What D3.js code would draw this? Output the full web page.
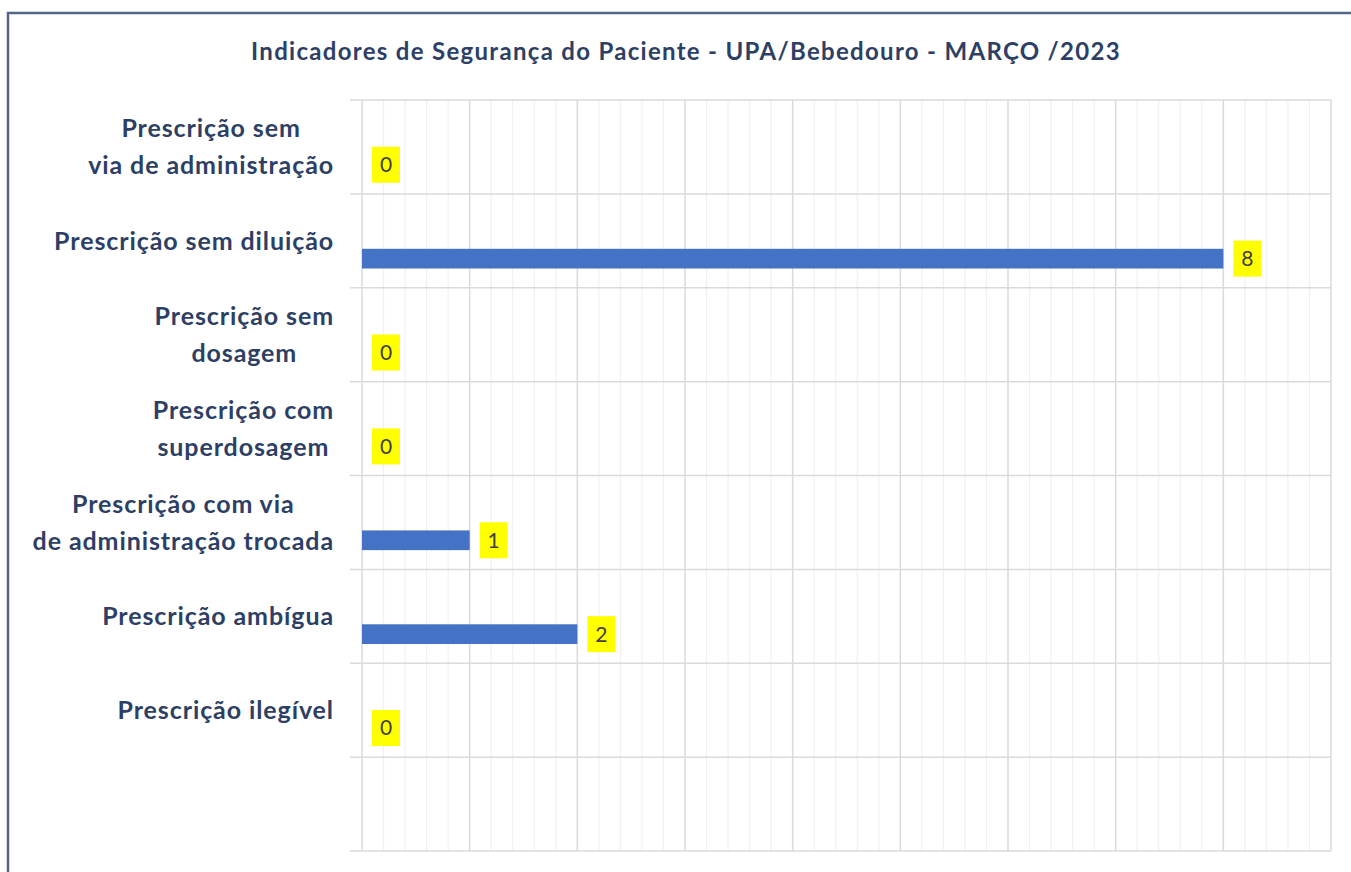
<!DOCTYPE html>
<html>
<head>
<meta charset="utf-8">
<script src="https://cdn.jsdelivr.net/npm/d3@7"></script>
<style>
  body { margin: 0; background: #fff; }
  svg { display: block; }
</style>
</head>
<body>
<div id="chart"></div>
<script>
// chart data
const title = "Indicadores de Segurança do Paciente - UPA/Bebedouro - MARÇO /2023";
const categories = [
  "Prescrição sem\nvia de administração",
  "Prescrição sem diluição",
  "Prescrição sem\ndosagem",
  "Prescrição com\nsuperdosagem",
  "Prescrição com via\nde administração trocada",
  "Prescrição ambígua",
  "Prescrição ilegível",
  ""
];
const values = [0, 8, 0, 0, 1, 2, 0, null];
const xMax = 9;

const width = 1351, height = 872;
const plot = { left: 362, right: 1331, top: 100, bottom: 851 };
const textColor = "#2e3f65";

const svg = d3.select("#chart").append("svg")
  .attr("width", width)
  .attr("height", height);

// outer frame
svg.append("rect")
  .attr("x", 8).attr("y", 13)
  .attr("width", width + 20).attr("height", height + 20)
  .attr("fill", "none")
  .attr("stroke", "#52668c")
  .attr("stroke-width", 2.5);

svg.append("text")
  .attr("x", 686).attr("y", 60)
  .attr("text-anchor", "middle")
  .attr("fill", textColor)
  .style("font-family", "Lato, 'Open Sans', sans-serif")
  .style("font-weight", "bold")
  .style("font-size", "24px")
  .style("letter-spacing", "1.3px")
  .text(title);

const x = d3.scaleLinear().domain([0, xMax]).range([plot.left, plot.right]);
const y = d3.scaleBand().domain(d3.range(categories.length)).range([plot.top, plot.bottom]);

// minor gridlines
svg.append("g")
  .selectAll("line")
  .data(d3.range(0, xMax + 0.001, 0.2).filter(v => Math.abs(v - Math.round(v)) > 0.01))
  .join("line")
  .attr("x1", d => x(d)).attr("x2", d => x(d))
  .attr("y1", plot.top).attr("y2", plot.bottom)
  .attr("stroke", "#f0f0f0").attr("stroke-width", 1.2);

// major gridlines
svg.append("g")
  .selectAll("line")
  .data(d3.range(0, xMax + 1))
  .join("line")
  .attr("x1", d => x(d)).attr("x2", d => x(d))
  .attr("y1", plot.top).attr("y2", plot.bottom)
  .attr("stroke", "#dadada").attr("stroke-width", 1.5);

// category separators
svg.append("g")
  .selectAll("line")
  .data(d3.range(categories.length + 1))
  .join("line")
  .attr("x1", plot.left - 12).attr("x2", plot.right)
  .attr("y1", d => plot.top + d * y.bandwidth())
  .attr("y2", d => plot.top + d * y.bandwidth())
  .attr("stroke", "#dadada").attr("stroke-width", 1.5);

// category labels
const labels = svg.append("g")
  .style("font-family", "Lato, 'Open Sans', sans-serif")
  .style("font-weight", "bold")
  .style("font-size", "25px")
  .style("letter-spacing", "0.9px")
  .attr("fill", textColor);

categories.forEach((c, i) => {
  if (!c) return;
  const lines = c.split("\n");
  const g = labels.append("g");
  const cy = y(i) + y.bandwidth() / 2;
  const lh = 37;
  const t = g.selectAll("text").data(lines).join("text")
    .attr("y", (d, j) => cy + (j - (lines.length - 1) / 2) * lh)
    .attr("dy", "0.35em")
    .attr("text-anchor", "middle")
    .text(d => d);
  const w = d3.max(t.nodes(), n => n.getComputedTextLength());
  t.attr("x", 334 - w / 2);
});

const barY = i => y(i) + y.bandwidth() * 0.585;
const barH = y.bandwidth() * 0.21;

// bars
svg.append("g")
  .selectAll("rect")
  .data(values.map((v, i) => ({ v, i })).filter(d => d.v !== null))
  .join("rect")
  .attr("x", x(0))
  .attr("y", d => barY(d.i))
  .attr("width", d => x(d.v) - x(0))
  .attr("height", barH)
  .attr("fill", "#4472c4");

// value labels with yellow boxes
const vl = svg.append("g")
  .selectAll("g")
  .data(values.map((v, i) => ({ v, i })).filter(d => d.v !== null))
  .join("g")
  .attr("transform", d => `translate(${x(d.v) + 10},${barY(d.i) + barH / 2})`);

vl.append("rect")
  .attr("x", 0).attr("y", -18)
  .attr("width", 28).attr("height", 36)
  .attr("fill", "#ffff00");

vl.append("text")
  .attr("x", 14).attr("y", 0)
  .attr("dy", "0.35em")
  .attr("text-anchor", "middle")
  .attr("fill", "#404040")
  .style("font-family", "Lato, 'Open Sans', sans-serif")
  .style("font-size", "21px")
  .text(d => d.v);
</script>
</body>
</html>
